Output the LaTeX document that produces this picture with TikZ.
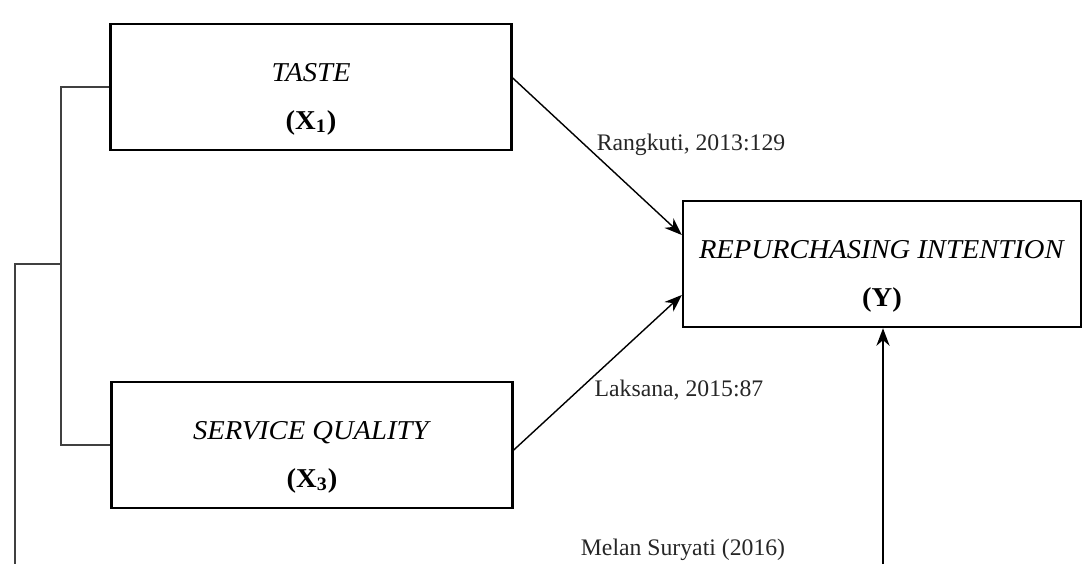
\documentclass[tikz,border=0pt]{standalone}
\usepackage{fontspec}
\setmainfont{Liberation Serif}
\newfontfamily\boxfont[FakeStretch=1.05]{Liberation Serif}
\usetikzlibrary{arrows.meta}
\newcommand{\vartext}[2]{\rule{0pt}{0.85cm}\textit{#1}\\\textbf{#2}}
\begin{document}
\begin{tikzpicture}[
        varbox/.style={draw, line width=1.4pt, minimum width=8.02cm, minimum height=2.52cm, align=center, font=\boxfont\fontsize{15.5}{27}\selectfont},
        link/.style={line width=0.8pt, -{Stealth[length=10pt,width=7.5pt]}},
        bracket/.style={line width=0.8pt, black!75},
        cite/.style={font=\fontsize{13.5}{16}\selectfont, text=black!85}
    ]
        \useasboundingbox (0, 0) rectangle (21.68, 11.28);

        \node[varbox] (taste) at (6.22, 9.54) {\vartext{TASTE}{(X\textsubscript{1})}};
        \node[varbox] (service) at (6.24, 2.38) {\vartext{SERVICE QUALITY}{(X\textsubscript{3})}};
        \node[varbox, minimum width=7.96cm] (intent) at (17.64, 6.0) {\vartext{REPURCHASING INTENTION}{(Y)}};

        \coordinate (join) at (1.22, 6.0);
        \coordinate (cutL) at (0.3, 0);
        \coordinate (cutR) at (17.66, 0);

        \draw[link] ([yshift=0.18cm]taste.east) -- ([yshift=0.58cm]intent.west);
        \draw[link] ([yshift=-0.1cm]service.east) -- ([yshift=-0.62cm]intent.west);
        \draw[link] (cutR) -- (cutR |- intent.south);

        \draw[bracket] (taste.west) -| (join) |- (service.west);
        \draw[bracket] (join) -- (cutL |- join) -- (cutL);

        \node[cite] (rangkuti) at (13.82, 8.38) {Rangkuti, 2013:129};
        \node[cite] (laksana) at (13.58, 3.48) {Laksana, 2015:87};
        \node[cite] (suryati) at (13.66, 0.28) {Melan Suryati (2016)};

    \end{tikzpicture}
\end{document}
